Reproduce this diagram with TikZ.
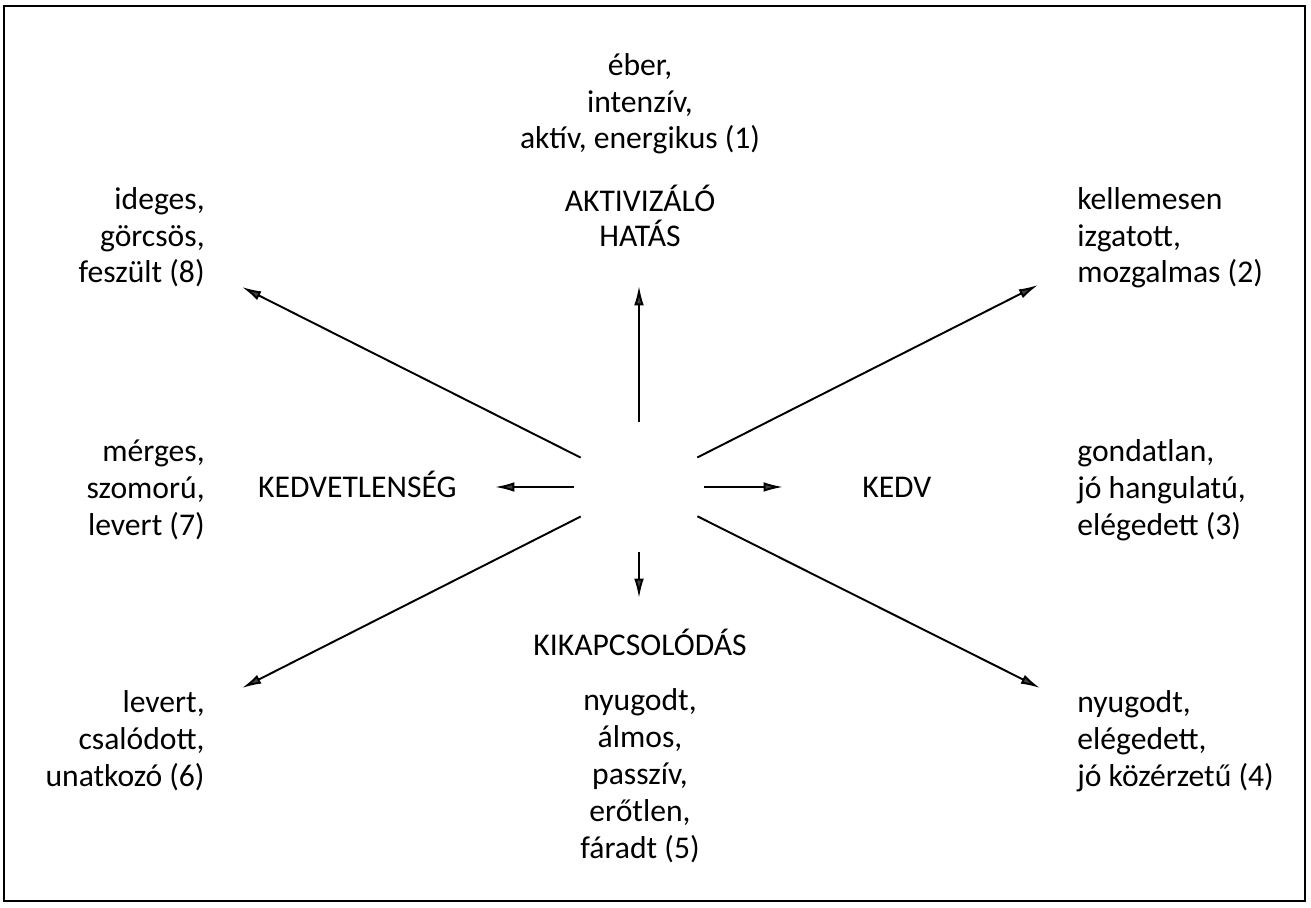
\documentclass[tikz,border=0pt]{standalone}
\usepackage{fontspec}
\setmainfont{Carlito}
\usetikzlibrary{arrows.meta}
\tikzstyle{mood-text} = [inner sep=0pt, font=\fontsize{18}{21}\selectfont]
\tikzstyle{axis-label} = [inner sep=0pt, font=\fontsize{18}{20}\selectfont]
\tikzstyle{mood-arrow} = [line width=1.1pt, -{Latex[length=11pt,width=5.5pt,fill=black!75]}]
\tikzstyle{hub-area} = [circle, minimum size=2.6cm, inner sep=0pt]

\begin{document}
\begin{tikzpicture}[x=0.02cm,y=-0.02cm]
\useasboundingbox (0,0) rectangle (1311,908);
\draw[line width=1.1pt] (4,6) rectangle (1305,901);

\node [hub-area] (hub) at (639,487) {};

% main directions (base = last line)
\node [axis-label, align=center, anchor=base] (aktiv) at (640,247) {AKTIVIZÁLÓ\\HATÁS};
\node [axis-label, anchor=base west] (kedv) at (862,498) {KEDV};
\node [axis-label, anchor=base east] (kedvetlen) at (457,498) {KEDVETLENSÉG};
\node [axis-label, anchor=base] (kikapcs) at (640,655) {KIKAPCSOLÓDÁS};

% mood descriptions
\node [mood-text, align=center, anchor=base] (mood1) at (640,149) {éber,\\intenzív,\\aktív, energikus (1)};
\node [mood-text, align=left, anchor=base west] (mood2) at (1077,283) {kellemesen\\izgatott,\\mozgalmas (2)};
\node [mood-text, align=left, anchor=base west] (mood3) at (1077,535) {gondatlan,\\jó hangulatú,\\elégedett (3)};
\node [mood-text, align=left, anchor=base west] (mood4) at (1077,786) {nyugodt,\\elégedett,\\jó közérzetű (4)};
\node [mood-text, align=center, anchor=base] (mood5) at (640,858) {nyugodt,\\álmos,\\passzív,\\erőtlen,\\fáradt (5)};
\node [mood-text, align=right, anchor=base east] (mood6) at (205,786) {levert,\\csalódott,\\unatkozó (6)};
\node [mood-text, align=right, anchor=base east] (mood7) at (205,535) {mérges,\\szomorú,\\levert (7)};
\node [mood-text, align=right, anchor=base east] (mood8) at (205,283) {ideges,\\görcsös,\\feszült (8)};

% arrow tips
\coordinate (tip-n) at (639,286);
\coordinate (tip-s) at (639,598);
\coordinate (tip-e) at (783,487);
\coordinate (tip-w) at (495,487);
\coordinate (tip-ne) at (1038,285);
\coordinate (tip-nw) at (242,287);
\coordinate (tip-se) at (1040,688);
\coordinate (tip-sw) at (242,688);

\foreach \t in {n,s,e,w,ne,nw,se,sw}
  \draw [mood-arrow] (hub) -- (tip-\t);
\end{tikzpicture}
\end{document}
